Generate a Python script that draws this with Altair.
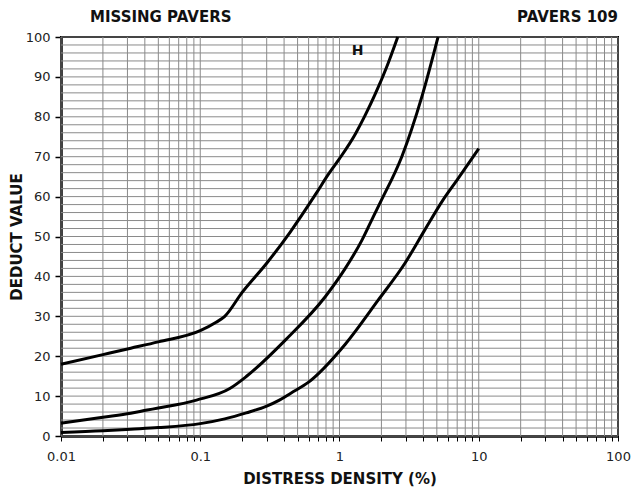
import altair as alt
import pandas as pd

# Curve H (top / leftmost)
h_x = [0.01, 0.02, 0.0317, 0.05, 0.1, 0.13, 0.15, 0.2, 0.3, 0.44, 0.68, 0.84, 1.0, 1.3, 1.53, 1.8, 2.2, 2.62]
h_y = [18.0, 20.4, 22.0, 23.6, 26.4, 28.5, 30.0, 36.0, 43.3, 51.0, 60.8, 65.8, 69.5, 75.7, 80.4, 85.6, 92.8, 100.0]

# Curve M (middle)
m_x = [0.01, 0.02, 0.0317, 0.0416, 0.05, 0.094, 0.163, 0.214, 0.41, 0.79, 1.1, 1.45, 1.75, 2.0, 2.8, 3.9, 5.1]
m_y = [3.2, 4.7, 5.7, 6.5, 7.0, 9.0, 11.9, 14.9, 24.1, 34.9, 42.0, 49.1, 55.0, 59.1, 70.0, 85.0, 100.0]

# Curve L (bottom / rightmost)
l_x = [0.01, 0.02, 0.0317, 0.05, 0.1, 0.15, 0.214, 0.3, 0.37, 0.45, 0.6, 1.1, 1.9, 2.95, 4.09, 5.5, 7.0, 10.0]
l_y = [0.9, 1.3, 1.7, 2.1, 3.1, 4.3, 5.8, 7.5, 9.0, 10.8, 13.5, 23.0, 34.1, 43.3, 51.6, 59.0, 64.2, 72.0]

x_ticks = [0.01, 0.02, 0.03, 0.04, 0.05, 0.06, 0.07, 0.08, 0.09,
           0.1, 0.2, 0.3, 0.4, 0.5, 0.6, 0.7, 0.8, 0.9,
           1, 2, 3, 4, 5, 6, 7, 8, 9,
           10, 20, 30, 40, 50, 60, 70, 80, 90, 100]
y_labels = list(range(0, 101, 10))
y_grid = list(range(0, 101, 2))

rows = []
for name, xs_, ys_ in [("H", h_x, h_y), ("M", m_x, m_y), ("L", l_x, l_y)]:
    for a, b in zip(xs_, ys_):
        rows.append({"curve": name, "density": a, "deduct": b})
df = pd.DataFrame(rows)

FONT = "DejaVu Sans"
GRID = "#8a8a8a"

xs = alt.Scale(type="log", domain=[0.01, 100], nice=False)
ys = alt.Scale(domain=[0, 100], nice=False)

x_axis = alt.Axis(
    values=x_ticks,
    title="DISTRESS DENSITY (%)",
    labelExpr="abs(log(datum.value)/LN10 - round(log(datum.value)/LN10)) < 0.001 ? format(datum.value, '~g') : ''",
    labelOverlap=False,
    labelFlush=False,
    grid=False,
    tickColor="black", tickSize=5, tickWidth=1,
    domainColor="black", domainWidth=2.5,
    labelPadding=9, titlePadding=8,
    labelFont=FONT, labelFontSize=13, labelColor="#222",
    titleFont=FONT, titleFontSize=15, titleFontWeight="bold", titleColor="#111",
)
y_axis = alt.Axis(
    values=y_labels,
    title="DEDUCT VALUE",
    labelOverlap=False,
    labelFlush=False,
    grid=False,
    tickColor="black", tickSize=6, tickWidth=1.5,
    domainColor="black", domainWidth=2.5,
    labelPadding=5, titlePadding=1,
    labelFont=FONT, labelFontSize=13, labelColor="#222",
    titleFont=FONT, titleFontSize=15, titleFontWeight="bold", titleColor="#111",
)

X = lambda: alt.X("density:Q", scale=xs, axis=x_axis)
Y = lambda: alt.Y("deduct:Q", scale=ys, axis=y_axis)

vgrid = alt.Chart(pd.DataFrame({"density": x_ticks})).mark_rule(color=GRID, strokeWidth=1).encode(x=X())
hgrid = alt.Chart(pd.DataFrame({"deduct": y_grid})).mark_rule(color=GRID, strokeWidth=1).encode(y=Y())

lines = alt.Chart(df).mark_line(color="black", strokeWidth=3, interpolate="monotone").encode(
    x=X(), y=Y(), detail="curve:N",
)

h_label = alt.Chart(pd.DataFrame({"t": ["H"], "density": [1.35], "deduct": [96.4]})).mark_text(
    font=FONT, fontSize=14, fontWeight="bold", color="#111", baseline="middle", align="center"
).encode(x=X(), y=Y(), text="t:N")

title_left = alt.Chart(pd.DataFrame({"t": ["MISSING PAVERS"]})).mark_text(
    font=FONT, fontSize=15, fontWeight="bold", color="#111", align="left", baseline="alphabetic"
).encode(x=alt.value(29), y=alt.value(-15), text="t:N")

title_right = alt.Chart(pd.DataFrame({"t": ["PAVERS 109"]})).mark_text(
    font=FONT, fontSize=15, fontWeight="bold", color="#111", align="right", baseline="alphabetic"
).encode(x=alt.value(557), y=alt.value(-15), text="t:N")

chart = alt.layer(vgrid, hgrid, lines, h_label, title_left, title_right).properties(
    width=557, height=399,
    autosize=alt.AutoSizeParams(type="none"),
    padding={"left": 53, "top": 29, "right": 13, "bottom": 54},
    background="white",
).configure_view(
    stroke="black", strokeWidth=2
)

chart.save("out.html", embed_options={"renderer": "svg", "actions": False})
